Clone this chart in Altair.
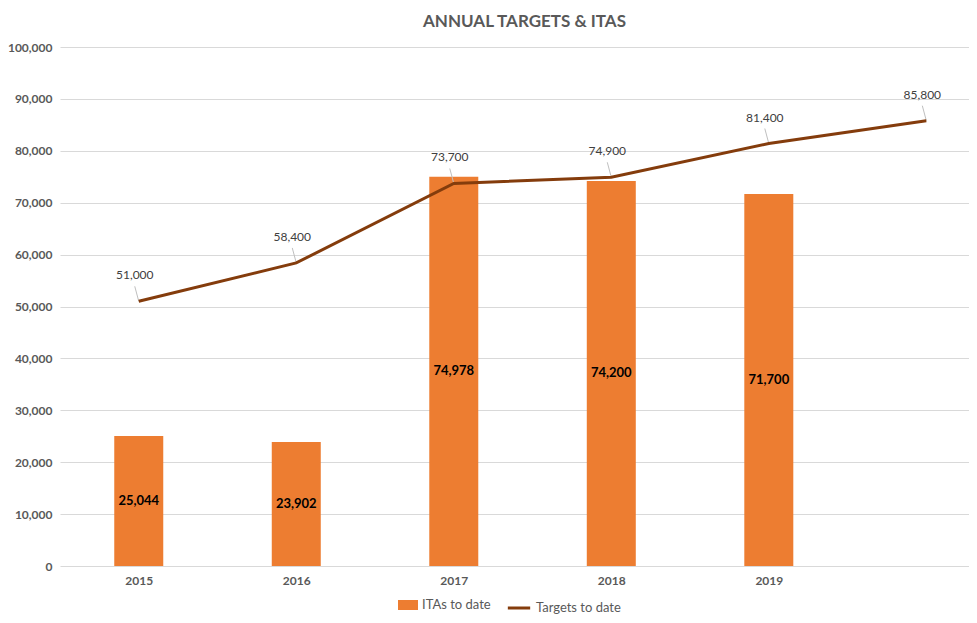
import altair as alt
import pandas as pd

years = ["2015", "2016", "2017", "2018", "2019", ""]
itas = [25044, 23902, 74978, 74200, 71700, None]
targets = [51000, 58400, 73700, 74900, 81400, 85800]

df = pd.DataFrame({
    "idx": list(range(len(years))),
    "year": years,
    "itas": itas,
    "targets": targets,
})
df["series_bar"] = "ITAs to date"
df["series_line"] = "Targets to date"

FONT = "Lato"
GRAY = "#595959"
label_expr = "[" + ",".join("'%s'" % y for y in years) + "][datum.value]"

xscale = alt.Scale(domain=[-0.5, 5.271], nice=False, zero=False, padding=0)
xaxis = alt.Axis(values=list(range(len(years))), labelExpr=label_expr,
                 grid=False, ticks=False, domain=False, title=None,
                 labelFont=FONT, labelFontSize=12, labelFontWeight="bold",
                 labelColor=GRAY, labelPadding=9)
yscale = alt.Scale(domain=[0, 100000], nice=False, zero=True, padding=0)
yaxis = alt.Axis(values=list(range(0, 100001, 10000)), format=",.0f",
                 title=None, ticks=False, domain=False,
                 gridColor="#d9d9d9", gridWidth=1,
                 labelFont=FONT, labelFontSize=12, labelFontWeight="bold",
                 labelColor=GRAY, labelPadding=8)


def X(field="idx"):
    return alt.X(f"{field}:Q", scale=xscale, axis=xaxis)


def Y(field):
    return alt.Y(f"{field}:Q", scale=yscale, axis=yaxis)


base = alt.Chart(df)

bars = base.transform_filter("isValid(datum.itas)").mark_bar(size=49).encode(
    x=X(),
    y=Y("itas"),
    fill=alt.Fill("series_bar:N",
                  scale=alt.Scale(domain=["ITAs to date"], range=["#ED7D31"]),
                  legend=alt.Legend(title=None, orient="none", legendX=338, legendY=548,
                                    symbolType="M-1,-0.5H1V0.5H-1Z", symbolSize=400,
                                    labelFont=FONT, labelFontSize=13, labelColor=GRAY,
                                    symbolStrokeWidth=0)),
)

bar_labels = base.transform_filter("isValid(datum.itas)").transform_calculate(
    mid="datum.itas / 2"
).mark_text(font=FONT, fontSize=13, fontWeight="bold", color="black").encode(
    x=X(),
    y=Y("mid"),
    text=alt.Text("itas:Q", format=",.0f"),
)

line = base.mark_line(strokeWidth=3).encode(
    x=X(),
    y=Y("targets"),
    stroke=alt.Stroke("series_line:N",
                      scale=alt.Scale(domain=["Targets to date"], range=["#843C0C"]),
                      legend=alt.Legend(title=None, orient="none", legendX=446, legendY=548,
                                        symbolType="stroke", symbolSize=500,
                                        symbolStrokeWidth=3,
                                        labelFont=FONT, labelFontSize=13, labelColor=GRAY)),
)

leaders = base.mark_rule(color="#bfbfbf", strokeWidth=1, x2Offset=-4, y2Offset=-15).encode(
    x=X(),
    x2="idx:Q",
    y=Y("targets"),
    y2="targets:Q",
)

line_labels = base.mark_text(font=FONT, fontSize=12, color="#404040", dy=-26, dx=-4).encode(
    x=X(),
    y=Y("targets"),
    text=alt.Text("targets:Q", format=",.0f"),
)

chart = alt.layer(bars, bar_labels, leaders, line, line_labels).resolve_scale(
    fill="independent", stroke="independent"
).properties(
    width=909,
    height=519,
    autosize=alt.AutoSizeParams(type="none"),
    padding={"left": 52, "top": 39, "right": 0, "bottom": 49},
    title=alt.TitleParams("ANNUAL TARGETS & ITAS", font=FONT, fontSize=17,
                          fontWeight="bold", color=GRAY, offset=10, dx=10),
    background="white",
).configure_view(stroke=None)

chart.save("out.html", embed_options={"renderer": "svg", "actions": False})
